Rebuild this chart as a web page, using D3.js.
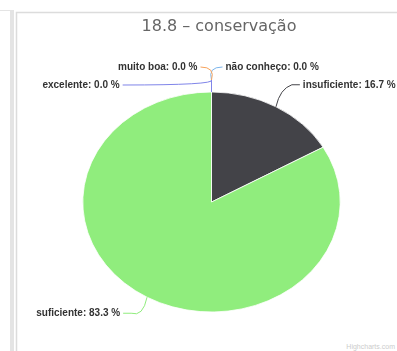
<!DOCTYPE html>
<html>
<head>
<meta charset="utf-8">
<script src="https://cdn.jsdelivr.net/npm/d3@7"></script>
<style>
  body { margin: 0; background: #fff; }
  svg { display: block; font-family: "Liberation Sans", Arial, sans-serif; }
</style>
</head>
<body>
<svg id="chart"></svg>
<script>
// slices in drawing order (clockwise from top)
const categories = ["não conheço", "insuficiente", "suficiente", "muito boa", "excelente"];
const values = [0, 16.7, 83.3, 0, 0];
const colors = ["#7cb5ec", "#434348", "#90ed7d", "#f7a35c", "#8085e9"];
const title = "18.8 – conservação";

const W = 397, H = 351;
const cx = 211.5, cy = 202, r = 110, sx = 1.17;   // picture is stretched sideways
const dist = 22;

const svg = d3.select("#chart").attr("width", W).attr("height", H);

const defs = svg.append("defs");
defs.append("filter").attr("id", "soft")
  .append("feGaussianBlur").attr("stdDeviation", 0.35);

// frame bits
svg.append("rect").attr("x", 10).attr("y", 10).attr("width", 4).attr("height", H)
    .attr("fill", "#e4e4e4");
svg.append("line").attr("x1", 0).attr("x2", 10).attr("y1", 10.5).attr("y2", 10.5)
    .attr("stroke", "#e4e4e4");
svg.append("rect").attr("x", 16.5).attr("y", 12.5).attr("width", W).attr("height", H)
    .attr("fill", "none").attr("stroke", "#dcdcdc").attr("stroke-width", 1.5);

svg.append("text")
    .attr("x", 219).attr("y", 31)
    .attr("text-anchor", "middle")
    .attr("font-family", "'DejaVu Sans', sans-serif")
    .attr("font-size", 16)
    .attr("fill", "#666")
    .attr("filter", "url(#soft)")
    .text(title);

const data = categories.map((c, i) => ({ name: c, value: values[i], color: colors[i] }));
const pie = d3.pie().sort(null).value(d => d.value);
const arcs = pie(data);
const arc = d3.arc().innerRadius(0).outerRadius(r);

const g = svg.append("g").attr("transform", `translate(${cx},${cy})`);
g.append("g").attr("transform", `scale(${sx},1)`)
  .selectAll("path")
  .data(arcs.filter(d => d.data.value > 0))
  .enter().append("path")
    .attr("d", arc)
    .attr("fill", d => d.data.color)
    .attr("stroke", "#fff")
    .attr("stroke-width", 0.8)
    .attr("vector-effect", "non-scaling-stroke");

// label layout: place on outer circle, push down on collisions
const labels = arcs.map(d => {
  const a = (d.startAngle + d.endAngle) / 2;
  return {
    d, a,
    right: Math.sin(a) > 1e-6 || (d.data.value === 0 && d.startAngle === 0),
    ex: sx * r * Math.sin(a), ey: -r * Math.cos(a),
    y: -(r + dist) * Math.cos(a)
  };
});
["L", "R"].forEach(side => {
  const list = labels.filter(l => (side === "R") === l.right).sort((p, q) => p.y - q.y);
  for (let i = 1; i < list.length; i++) {
    if (list[i].y - list[i - 1].y < 17) list[i].y = list[i - 1].y + 18;
  }
});
labels.forEach(l => {
  const R = r + dist;
  const dx = sx * Math.sqrt(Math.max(0, R * R - l.y * l.y)) + 14;
  l.x = l.right ? dx : -dx;
});

const lab = g.selectAll(".lab").data(labels).enter().append("g").attr("class", "lab");

lab.append("path")
    .attr("fill", "none")
    .attr("stroke", l => l.d.data.color)
    .attr("stroke-width", 1)
    .attr("d", l => {
      const s = l.right ? 1 : -1;
      const x0 = l.x - s * 3, y0 = l.y - 3;
      if (l.d.data.value === 0) {
        const ky = l.ey - 12;
        return `M ${x0} ${y0} Q ${-s * 4} ${y0} 0 ${ky} L ${l.ex} ${l.ey}`;
      }
      return `M ${x0} ${y0} L ${x0 - s * 8} ${y0} Q ${l.ex + s * 4} ${y0 + 4} ${l.ex} ${l.ey}`;
    });

lab.append("text")
    .attr("x", l => l.x).attr("y", l => l.y)
    .attr("text-anchor", l => l.right ? "start" : "end")
    .attr("font-size", 10)
    .attr("font-weight", "bold")
    .attr("fill", "#333")
    .attr("filter", "url(#soft)")
    .text(l => `${l.d.data.name}: ${l.d.data.value.toFixed(1)} %`);

svg.append("text")
    .attr("x", W - 2).attr("y", H - 2)
    .attr("text-anchor", "end")
    .attr("font-size", 7)
    .attr("fill", "#ccc")
    .text("Highcharts.com");
</script>
</body>
</html>
